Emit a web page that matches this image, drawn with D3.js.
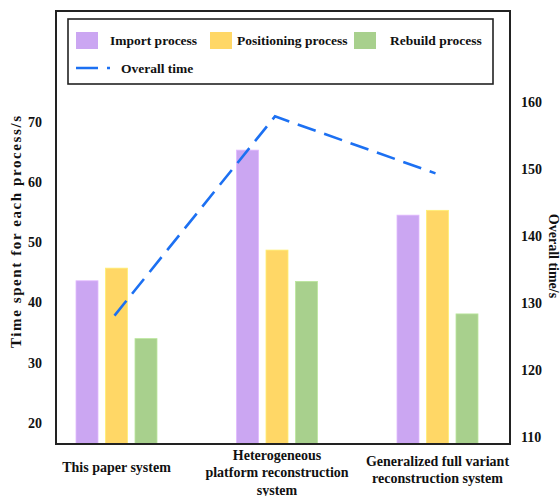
<!DOCTYPE html>
<html>
<head>
<meta charset="utf-8">
<script src="https://cdn.jsdelivr.net/npm/d3@7"></script>
<style>
  html, body { margin: 0; padding: 0; background: #fff; }
  svg text { font-family: "Liberation Serif", "Times New Roman", serif; font-weight: bold; fill: #111; }
</style>
</head>
<body>
<svg id="chart" width="560" height="496"></svg>
<script>
// Systems being compared (label lines)
const categories = [
  ["This paper system"],
  ["Heterogeneous", "platform reconstruction", "system"],
  ["Generalized full variant", "reconstruction system"]
];
const categoryKeys = ["This paper system", "Heterogeneous platform reconstruction system", "Generalized full variant reconstruction system"];

// Time per process (s), left axis
const seriesNames = ["Import process", "Positioning process", "Rebuild process"];
const importTime = [43.6, 65.3, 54.5];
const positioningTime = [45.7, 48.7, 55.3];
const rebuildTime = [34.0, 43.5, 38.1];

// Overall time (s), right axis
const overallTime = [128.1, 157.8, 149.3];

const leftTicks = [20, 30, 40, 50, 60, 70];
const rightTicks = [110, 120, 130, 140, 150, 160];

const colors = ["#cba6f2", "#ffd766", "#a8d08d"];
const lineColor = "#1c70f2";

const svg = d3.select("#chart");
const frame = { left: 56, right: 510, top: 11, bottom: 444 };

const x0 = d3.scaleBand().domain(categoryKeys).range([36.25, 517.75]);
const x1 = d3.scaleBand().domain(seriesNames).range([0, 81]).paddingInner(0.254);
const yL = d3.scaleLinear().domain([16.5, 88.4]).range([frame.bottom, frame.top]);
const yR = d3.scaleLinear().domain([108.96, 173.5]).range([frame.bottom, frame.top]);

const seriesValues = [importTime, positioningTime, rebuildTime];
const groupCenter = i => x0(categoryKeys[i]) + x0.bandwidth() / 2;

// Bars
seriesNames.forEach((name, si) => {
  svg.append("g")
    .selectAll("rect")
    .data(seriesValues[si])
    .join("rect")
    .attr("x", (d, i) => groupCenter(i) - 40.5 + x1(name))
    .attr("y", d => yL(d))
    .attr("width", x1.bandwidth())
    .attr("height", d => frame.bottom - yL(d))
    .attr("fill", colors[si])
    .attr("stroke", d3.color(colors[si]).brighter(0.3))
    .attr("stroke-width", 0.8);
});

// Overall time line
const line = d3.line()
  .x((d, i) => groupCenter(i) - 2)
  .y(d => yR(d));
svg.append("path")
  .datum(overallTime)
  .attr("d", line)
  .attr("fill", "none")
  .attr("stroke", lineColor)
  .attr("stroke-width", 2.6)
  .attr("stroke-dasharray", "19,9");

// Frame
svg.append("rect")
  .attr("x", frame.left).attr("y", frame.top)
  .attr("width", frame.right - frame.left)
  .attr("height", frame.bottom - frame.top)
  .attr("fill", "none").attr("stroke", "#222").attr("stroke-width", 2);

// Left axis (labels only)
const axL = d3.axisLeft(yL).tickValues(leftTicks).tickSize(0).tickPadding(14);
const gL = svg.append("g").attr("transform", `translate(${frame.left},0)`).call(axL);
gL.select(".domain").remove();
gL.selectAll("text").style("font-size", "14px").style("font-family", "Liberation Serif").style("font-weight", "bold").attr("fill", "#111");

// Right axis (labels only)
const axR = d3.axisRight(yR).tickValues(rightTicks).tickSize(0).tickPadding(11);
const gR = svg.append("g").attr("transform", `translate(${frame.right},0)`).call(axR);
gR.select(".domain").remove();
gR.selectAll("text").style("font-size", "14px").style("font-family", "Liberation Serif").style("font-weight", "bold").attr("fill", "#111");

// Axis titles
svg.append("text")
  .attr("transform", `translate(21,232) rotate(-90)`)
  .attr("text-anchor", "middle")
  .attr("textLength", 232)
  .attr("lengthAdjust", "spacing")
  .style("font-size", "15px")
  .text("Time spent for each process/s");
svg.append("text")
  .attr("transform", `translate(549,256) rotate(90)`)
  .attr("text-anchor", "middle")
  .style("font-size", "14px")
  .text("Overall time/s");

// Category labels
const lineH = 17.5;
categories.forEach((lines, i) => {
  const cx = groupCenter(i);
  const mid = 472 + (lines.length - 1) * 2.5;
  const startY = mid - (lines.length - 1) * lineH / 2;
  const t = svg.append("text").attr("text-anchor", "middle").style("font-size", "14px");
  lines.forEach((s, j) => {
    t.append("tspan").attr("x", cx).attr("y", startY + j * lineH).text(s);
  });
});

// Legend
const lg = svg.append("g");
lg.append("rect")
  .attr("x", 68).attr("y", 19).attr("width", 425).attr("height", 65)
  .attr("fill", "#fff").attr("stroke", "#222").attr("stroke-width", 1.6);
const swatchX = [76, 210, 354];
const labelX = [110, 237, 390];
seriesNames.forEach((name, si) => {
  lg.append("rect")
    .attr("x", swatchX[si]).attr("y", 32).attr("width", 22).attr("height", 17)
    .attr("fill", colors[si]);
  lg.append("text")
    .attr("x", labelX[si]).attr("y", 45)
    .style("font-size", "13.5px")
    .text(name);
});
lg.append("line")
  .attr("x1", 76).attr("x2", 110).attr("y1", 68).attr("y2", 68)
  .attr("stroke", lineColor).attr("stroke-width", 2.6)
  .attr("stroke-dasharray", "22,9");
lg.append("text")
  .attr("x", 121).attr("y", 73)
  .style("font-size", "13.5px")
  .text("Overall time");
</script>
</body>
</html>
